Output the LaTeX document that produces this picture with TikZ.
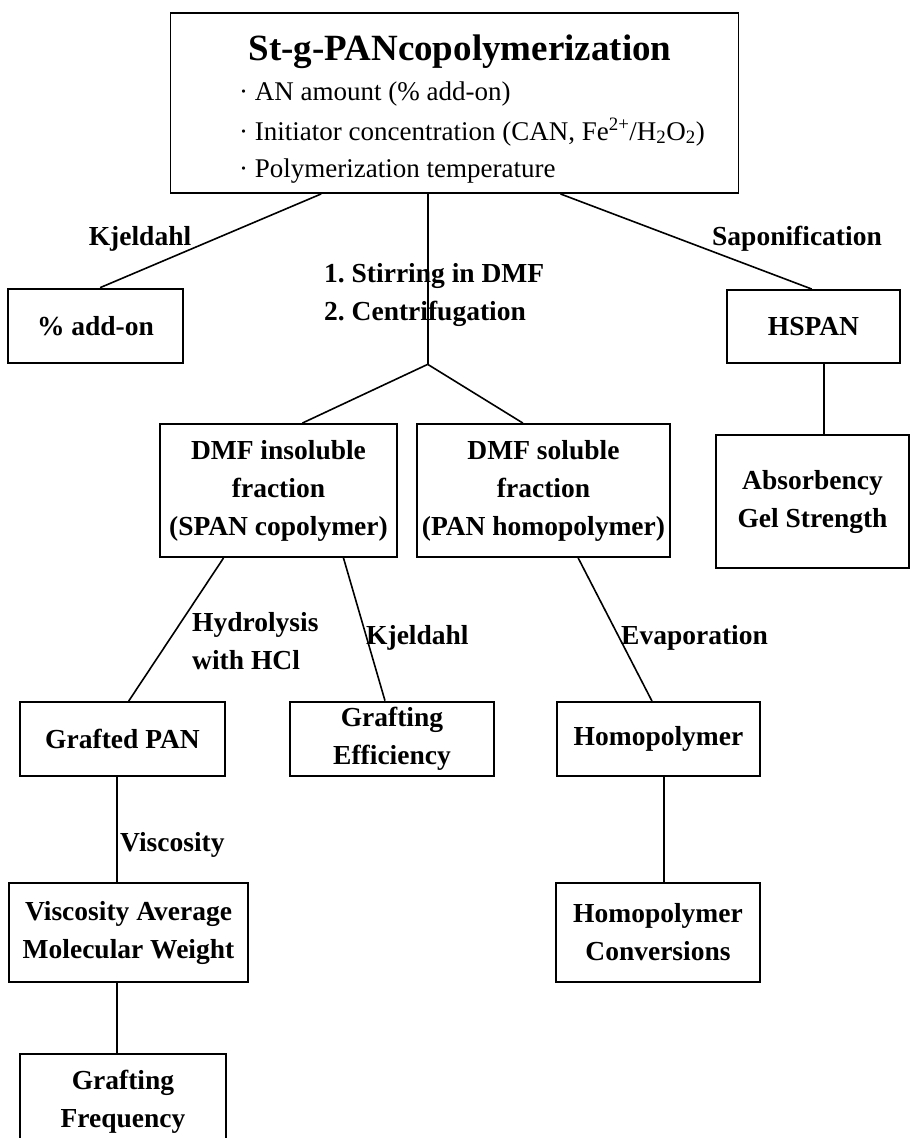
\documentclass[tikz,border=0pt]{standalone}
\usepackage{fontspec}
\setmainfont{Liberation Serif}
\usetikzlibrary{calc}
\frenchspacing
\tikzset{
  box/.style={draw, line width=1.9pt, align=center, inner sep=0pt,
    font=\fontsize{27.5}{38}\selectfont\bfseries},
  thickbox/.style={box, line width=2.7pt},
  lbl/.style={inner sep=0pt, font=\fontsize{27.5}{38}\selectfont\bfseries},
  itemtext/.style={inner sep=0pt, anchor=base west, font=\fontsize{27}{38}\selectfont},
  conn/.style={line width=1.6pt},
}
\begin{document}
\begin{tikzpicture}[x=1pt, y=-1pt]
\useasboundingbox (0,0) rectangle (912,1138);
\clip (0,0) rectangle (912,1138);
\fill[white] (0,0) rectangle (912,1138);

% top box
\node[box, minimum width=568pt, minimum height=180pt] (top) at (454.5,103) {};
\node[lbl, anchor=base, font=\fontsize{37}{40}\selectfont\bfseries] (title) at (460,60) {St-g-PANcopolymerization};
\node[itemtext] (it1) at (239,100) {· AN amount (\% add-on)};
\node[itemtext] (it2) at (239,140) {· Initiator concentration (CAN, Fe\textsuperscript{2+}/H\textsubscript{2}O\textsubscript{2})};
\node[itemtext] (it3) at (239,177) {· Polymerization temperature};

% boxes
\node[thickbox, minimum width=175pt, minimum height=74pt] (addon) at (95.5,326) {\% add-on};
\node[box, minimum width=173pt, minimum height=73pt] (hspan) at (813.5,326.5) {HSPAN};
\node[thickbox, minimum width=193pt, minimum height=133pt] (absorb) at (812.5,501.5) {Absorbency\\Gel Strength};
\node[box, minimum width=237pt, minimum height=133pt] (dmfin) at (278.5,490.5) {DMF insoluble\\fraction\\(SPAN copolymer)};
\node[box, minimum width=253pt, minimum height=133pt] (dmfsol) at (543.5,490.5) {DMF soluble\\fraction\\(PAN homopolymer)};
\node[box, minimum width=205pt, minimum height=74pt] (grafted) at (122.5,739) {Grafted PAN};
\node[thickbox, minimum width=204pt, minimum height=74pt] (geff) at (392,739) {Grafting\\Efficiency};
\node[box, minimum width=203pt, minimum height=74pt] (homo) at (658.5,739) {Homopolymer};
\node[thickbox, minimum width=239pt, minimum height=99pt] (visc) at (128.5,932.5) {Viscosity Average\\Molecular Weight};
\node[thickbox, minimum width=204pt, minimum height=99pt] (hconv) at (658,932.5) {Homopolymer\\Conversions};
\node[thickbox, minimum width=206pt, minimum height=96pt] (gfreq) at (123,1102) {Grafting\\Frequency};

% labels
\node[lbl, anchor=base] (kj1) at (140,245) {Kjeldahl};
\node[lbl, anchor=base] (sap) at (797,245) {Saponification};
\node[lbl, anchor=base west] (stir1) at (324,282) {1. Stirring in DMF};
\node[lbl, anchor=base west] (stir2) at (324,320) {2. Centrifugation};
\node[lbl, anchor=base west] (hyd1) at (192,631) {Hydrolysis};
\node[lbl, anchor=base west] (hyd2) at (192,669) {with HCl};
\node[lbl, anchor=base west] (kj2) at (366,644) {Kjeldahl};
\node[lbl, anchor=base west] (evap) at (621,644) {Evaporation};
\node[lbl, anchor=base west] (visclbl) at (120,851) {Viscosity};

% connectors
\coordinate (s1) at ($(top.south west)!0.266!(top.south east)$);
\coordinate (s2) at ($(top.south west)!0.453!(top.south east)$);
\coordinate (s3) at ($(top.south west)!0.686!(top.south east)$);
\coordinate (split) at (s2 |- addon.south);
\draw[conn] (s1) -- ($(addon.north west)!0.526!(addon.north east)$);
\draw[conn] (s2) -- (split);
\draw[conn] (split) -- ($(dmfin.north west)!0.6!(dmfin.north east)$);
\draw[conn] (split) -- ($(dmfsol.north west)!0.419!(dmfsol.north east)$);
\draw[conn] (s3) -- ($(hspan.north west)!0.49!(hspan.north east)$);
\coordinate (h1) at ($(hspan.south west)!0.561!(hspan.south east)$);
\draw[conn] (h1) -- (h1 |- absorb.north);
\draw[conn] ($(dmfin.south west)!0.27!(dmfin.south east)$) -- ($(grafted.north west)!0.53!(grafted.north east)$);
\draw[conn] ($(dmfin.south west)!0.772!(dmfin.south east)$) -- ($(geff.north west)!0.466!(geff.north east)$);
\draw[conn] ($(dmfsol.south west)!0.636!(dmfsol.south east)$) -- ($(homo.north west)!0.468!(homo.north east)$);
\coordinate (g1) at ($(grafted.south west)!0.473!(grafted.south east)$);
\draw[conn] (g1) -- (g1 |- visc.north);
\draw[conn] (g1 |- visc.south) -- (g1 |- gfreq.north);
\coordinate (m1) at ($(homo.south west)!0.527!(homo.south east)$);
\draw[conn] (m1) -- (m1 |- hconv.north);
\end{tikzpicture}
\end{document}
